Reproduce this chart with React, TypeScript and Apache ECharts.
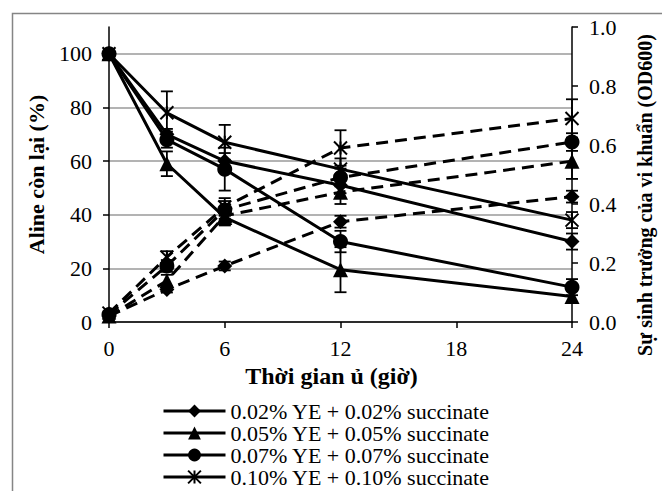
import React, { useEffect, useRef } from "react";
import * as echarts from "echarts";

const times = [0, 3, 6, 12, 24];
const xTicks = [0, 6, 12, 18, 24];
const leftTicks = [0, 20, 40, 60, 80, 100];

const seriesNames = [
  "0.02% YE + 0.02% succinate",
  "0.05% YE + 0.05% succinate",
  "0.07% YE + 0.07% succinate",
  "0.10% YE + 0.10% succinate",
];

// Aline remaining (%) - solid lines, left axis
const aline002 = [100, 70, 60, 51, 30];
const aline005 = [100, 59, 39, 19.5, 9.5];
const aline007 = [100, 68, 57, 30, 13];
const aline010 = [100, 78, 67, 57, 38];

const errAline002 = [0, 2, 3, 3, 3];
const errAline005 = [0, 4.6, 3, 8.4, 2];
const errAline007 = [0, 3, 8, 4, 3];
const errAline010 = [0, 8, 6.5, 4, 3];

// Bacterial growth (OD600) - dashed lines, right axis
const od002 = [0.02, 0.11, 0.19, 0.34, 0.425];
const od005 = [0.02, 0.14, 0.36, 0.44, 0.545];
const od007 = [0.025, 0.19, 0.38, 0.49, 0.61];
const od010 = [0.03, 0.22, 0.39, 0.59, 0.69];

const errOd002 = [0, 0.01, 0.015, 0.02, 0.02];
const errOd005 = [0, 0.02, 0.03, 0.04, 0.06];
const errOd007 = [0, 0.02, 0.03, 0.03, 0.03];
const errOd010 = [0, 0.02, 0.03, 0.06, 0.065];

const FONT = "'Liberation Serif', 'Times New Roman', 'DejaVu Serif', serif";
const STAR = "path://M0,0L10,10M10,0L0,10M5,0L5,10";
const symbols = ["diamond", "triangle", "circle", STAR];
const symbolSizes = [15, 15, 15, 13];

export default function App() {
  const ref = useRef<HTMLDivElement>(null);

  useEffect(() => {
    if (!ref.current) return;
    const chart = echarts.init(ref.current, null, { renderer: "svg" });

    const alines = [aline002, aline005, aline007, aline010];
    const alineErr = [errAline002, errAline005, errAline007, errAline010];
    const ods = [od002, od005, od007, od010];
    const odErr = [errOd002, errOd005, errOd007, errOd010];

    const itemStyleFor = (i: number) =>
      i === 3
        ? { color: "#000", borderColor: "#000", borderWidth: 2 }
        : { color: "#000" };

    const errorSeries = (vals: number[], errs: number[], yAxisIndex: number, name: string) => ({
      type: "custom",
      name,
      yAxisIndex,
      silent: true,
      z: 4,
      data: times.map((t, k) => [t, vals[k], errs[k]]),
      renderItem: (params: any, api: any) => {
        const x = api.value(0);
        const y = api.value(1);
        const e = api.value(2);
        if (!e) return { type: "group", children: [] };
        const top = api.coord([x, y + e]);
        const bot = api.coord([x, y - e]);
        const w = 6;
        const st = { stroke: "#000", lineWidth: 1.8 };
        return {
          type: "group",
          children: [
            { type: "line", shape: { x1: top[0], y1: top[1], x2: bot[0], y2: bot[1] }, style: st },
            { type: "line", shape: { x1: top[0] - w, y1: top[1], x2: top[0] + w, y2: top[1] }, style: st },
            { type: "line", shape: { x1: bot[0] - w, y1: bot[1], x2: bot[0] + w, y2: bot[1] }, style: st },
          ],
        };
      },
    });

    const series: any[] = [];
    for (let i = 0; i < 4; i++) {
      series.push({
        type: "line",
        name: seriesNames[i],
        yAxisIndex: 0,
        data: times.map((t, k) => [t, alines[i][k]]),
        symbol: symbols[i],
        symbolSize: symbolSizes[i],
        showAllSymbol: true,
        lineStyle: { color: "#000", width: 3, type: "solid" },
        itemStyle: itemStyleFor(i),
        z: 5,
      });
    }
    for (let i = 0; i < 4; i++) {
      series.push({
        type: "line",
        name: "OD600 " + seriesNames[i],
        yAxisIndex: 1,
        data: times.map((t, k) => [t, ods[i][k]]),
        symbol: symbols[i],
        symbolSize: symbolSizes[i],
        showAllSymbol: true,
        lineStyle: { color: "#000", width: 3, type: [12, 7] },
        itemStyle: itemStyleFor(i),
        z: 5,
      });
    }
    for (let i = 0; i < 4; i++) {
      series.push(errorSeries(alines[i], alineErr[i], 0, "err-a-" + i));
      series.push(errorSeries(ods[i], odErr[i], 1, "err-o-" + i));
    }

    chart.setOption({
      animation: false,
      backgroundColor: "#fff",
      textStyle: { fontFamily: FONT, color: "#000" },
      grid: { left: 109, right: 90, top: 27, bottom: 169, containLabel: false },
      legend: {
        data: seriesNames,
        orient: "vertical",
        left: 162,
        top: 400,
        padding: 0,
        itemWidth: 62,
        itemHeight: 16,
        itemGap: 0,
        selectedMode: false,
        lineStyle: { width: 3, color: "#000" },
        textStyle: { fontFamily: FONT, fontSize: 22, color: "#000", lineHeight: 22 },
      },
      xAxis: {
        type: "value",
        min: 0,
        max: 24,
        interval: 6,
        name: "Thời gian ủ (giờ)",
        nameLocation: "middle",
        nameGap: 31,
        nameTextStyle: {
          fontFamily: FONT,
          fontSize: 24,
          fontWeight: "bold",
          color: "#000",
          padding: [0, 18, 0, 0],
        },
        axisLine: { show: true, onZero: false, lineStyle: { color: "#000", width: 1.5 } },
        axisTick: { show: true, inside: false, length: 6, customValues: xTicks, lineStyle: { color: "#000", width: 1.5 } },
        axisLabel: { customValues: xTicks, margin: 15, fontFamily: FONT, fontSize: 22, color: "#000" },
        splitLine: { show: false },
      },
      yAxis: [
        {
          type: "value",
          min: 0,
          max: 110,
          interval: 20,
          position: "left",
          name: "Aline còn lại (%)",
          nameLocation: "middle",
          nameGap: 62,
          nameTextStyle: { fontFamily: FONT, fontSize: 22, fontWeight: "bold", color: "#000" },
          axisLine: { show: true, lineStyle: { color: "#000", width: 1.5 } },
          axisTick: { show: true, inside: false, length: 6, customValues: leftTicks, lineStyle: { color: "#000", width: 1.5 } },
          axisLabel: { customValues: leftTicks, margin: 17, fontFamily: FONT, fontSize: 22, color: "#000" },
          splitLine: { show: true, lineStyle: { color: "#9a9a9a", width: 1.5 } },
        },
        {
          type: "value",
          min: 0,
          max: 1,
          interval: 0.2,
          position: "right",
          axisLine: { show: true, lineStyle: { color: "#000", width: 1.5 } },
          axisTick: { show: true, inside: false, length: 6, lineStyle: { color: "#000", width: 1.5 } },
          axisLabel: {
            margin: 17,
            fontFamily: FONT,
            fontSize: 22,
            color: "#000",
            formatter: (v: number) => v.toFixed(1),
          },
          splitLine: { show: false },
        },
      ],
      graphic: [
        {
          type: "rect",
          left: 10,
          top: 11,
          shape: { width: 720, height: 620 },
          style: { fill: "none", stroke: "#858585", lineWidth: 1.5 },
          silent: true,
          z: -10,
        },
        {
          type: "text",
          x: 645,
          y: 195,
          rotation: Math.PI / 2,
          style: {
            text: "Sự sinh trưởng của vi khuẩn (OD600)",
            font: `bold 20px ${FONT}`,
            fill: "#000",
            textAlign: "center",
            textVerticalAlign: "middle",
          },
          silent: true,
        },
      ],
      series,
    });

    return () => chart.dispose();
  }, []);

  return (
    <div
      ref={ref}
      style={{ position: "absolute", left: 0, top: 0, width: 662, height: 491 }}
    />
  );
}
